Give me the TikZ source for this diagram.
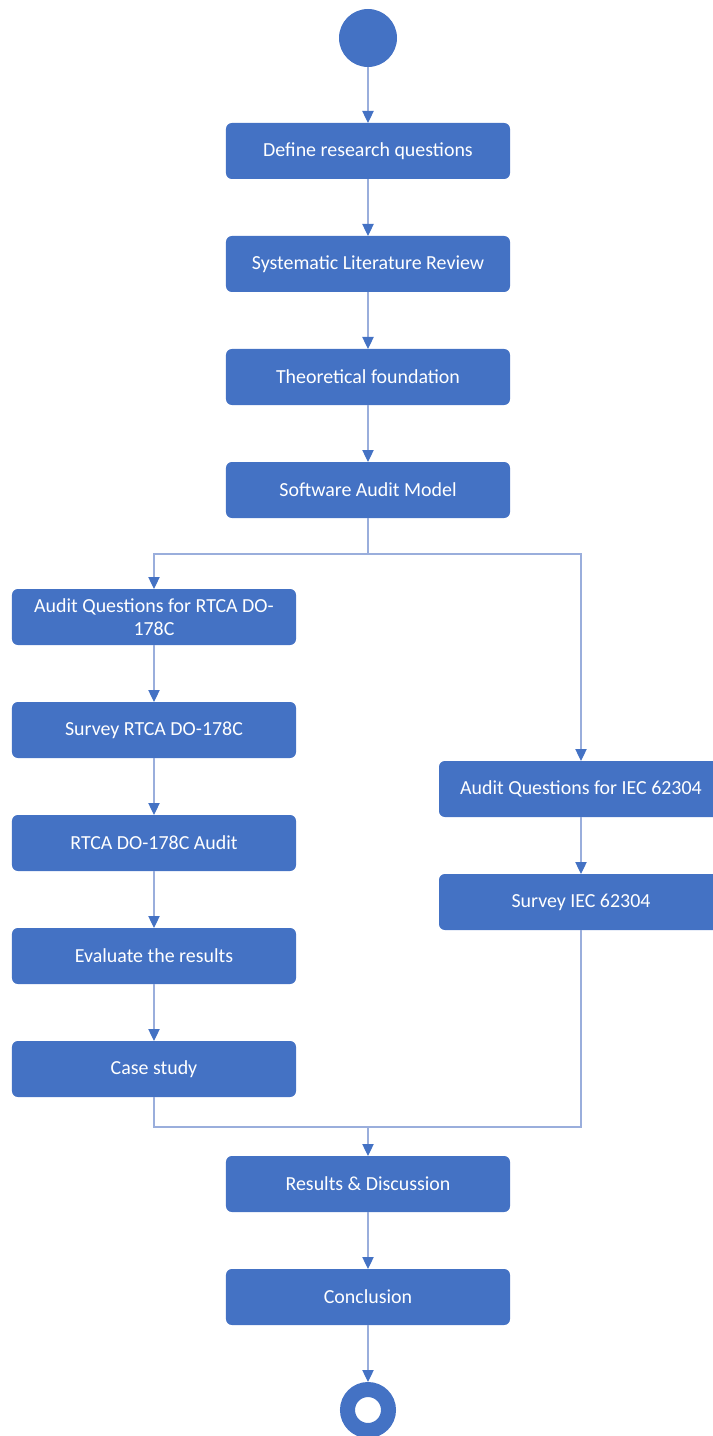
\documentclass[tikz,border=0pt]{standalone}
\usepackage{fontspec}
\setmainfont{Carlito}
\setsansfont{Carlito}
\usetikzlibrary{arrows.meta, positioning}
\definecolor{cblue}{HTML}{4472C4}
\definecolor{cline}{HTML}{9AAEDC}
\tikzset{
  every picture/.style={font=\sffamily\fontsize{17}{20}\selectfont, line width=1pt},
  stepbox/.style={fill=cblue, text=white, rounded corners=5pt, align=center, minimum width=8.52cm, minimum height=1.68cm, inner sep=2pt, outer sep=0pt},
  startdot/.style={circle, fill=cblue, minimum size=1.74cm, inner sep=0pt, outer sep=0pt},
  enddot/.style={circle, draw=cblue, fill=white, line width=0.45cm, minimum size=1.23cm, inner sep=0pt, outer sep=0.225cm},
  arrow/.style={-{Triangle[length=0.36cm, width=0.34cm, color=cblue]}, draw=cline},
  link/.style={draw=cline},
}
\begin{document}
\begin{tikzpicture}[node distance=1.71cm]
  \useasboundingbox (-11.04,1.14) rectangle (10.32,-41.94);
  \node[startdot] (s) at (0,0) {};
  \node[stepbox, below=1.68cm of s] (q) {Define research questions};
  \node[stepbox, below=of q] (slr) {Systematic Literature Review};
  \node[stepbox, below=of slr] (tf) {Theoretical foundation};
  \node[stepbox, below=of tf] (sam) {Software Audit Model};
  \node[stepbox, below=2.13cm of sam, xshift=-6.42cm] (aq1) {Audit Questions for RTCA DO-\\178C};
  \node[stepbox, below=of aq1] (sv1) {Survey RTCA DO-178C};
  \node[stepbox, below=of sv1] (au1) {RTCA DO-178C Audit};
  \node[stepbox, below=of au1] (ev) {Evaluate the results};
  \node[stepbox, below=of ev] (cs) {Case study};
  \node[stepbox, below=7.29cm of sam, xshift=6.39cm] (aq2) {Audit Questions for IEC 62304};
  \node[stepbox, below=of aq2] (sv2) {Survey IEC 62304};
  \node[stepbox, below=1.77cm of cs, xshift=6.42cm] (rd) {Results \& Discussion};
  \node[stepbox, below=of rd] (con) {Conclusion};
  \node[enddot, below=1.71cm of con] (e) {};
  \coordinate[below=1.08cm of sam] (split);
  \coordinate[above=0.87cm of rd] (merge);
  \draw[arrow] (s) -- (q); \draw[arrow] (q) -- (slr); \draw[arrow] (slr) -- (tf);
  \draw[arrow] (tf) -- (sam); \draw[link] (sam) -- (split);
  \draw[arrow] (split) -| (aq1); \draw[arrow] (split) -| (aq2);
  \draw[arrow] (aq1) -- (sv1); \draw[arrow] (sv1) -- (au1); \draw[arrow] (au1) -- (ev);
  \draw[arrow] (ev) -- (cs); \draw[arrow] (aq2) -- (sv2);
  \draw[link] (cs) |- (merge); \draw[link] (sv2) |- (merge);
  \draw[arrow] (merge) -- (rd); \draw[arrow] (rd) -- (con); \draw[arrow] (con) -- (e);
\end{tikzpicture}
\end{document}
